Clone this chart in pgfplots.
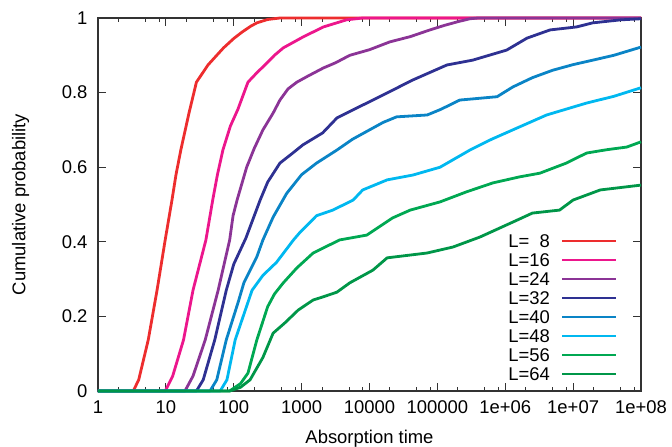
\documentclass[border=0pt]{standalone}
\usepackage{pgfplots}
\pgfplotsset{compat=1.18}
\usepackage{fontspec}
\setmainfont{Liberation Sans}
\definecolor{cA}{RGB}{237,45,46}
\definecolor{cB}{RGB}{236,22,140}
\definecolor{cC}{RGB}{139,52,150}
\definecolor{cD}{RGB}{46,49,146}
\definecolor{cE}{RGB}{10,132,198}
\definecolor{cF}{RGB}{0,184,240}
\definecolor{cG}{RGB}{0,168,82}
\definecolor{cH}{RGB}{0,150,72}
\begin{document}
\begin{tikzpicture}[font=\fontsize{18.5}{22}\selectfont]
\begin{axis}[
  scale only axis, width=543bp, height=373bp,
  xmode=log, xmin=1, xmax=1e8, ymin=0, ymax=1,
  clip=false,
  xtick={1,10,100,1000,10000,100000,1e6,1e7,1e8},
  xticklabels={1,10,100,1000,10000,100000,1e+06,1e+07,1e+08},
  minor xtick={2,5,8,20,50,80,200,500,800,2000,5000,8000,2e4,5e4,8e4,2e5,5e5,8e5,2e6,5e6,8e6,2e7,5e7,8e7},
  ytick={0,0.2,0.4,0.6,0.8,1},
  yticklabels={0,0.2,0.4,0.6,0.8,1},
  minor ytick={},
  tick align=inside,
  major tick length=8bp, minor tick length=4bp,
  axis line style={line width=1.2bp, black!80},
  tick style={line width=1bp, black!80},
  xticklabel style={yshift=-6.3bp},
  yticklabel style={xshift=-7bp},
  xlabel={Absorption time},
  ylabel={Cumulative probability},
  xlabel style={at={(axis description cs:0.5,-0.1408)}, anchor=base},
  ylabel style={at={(axis description cs:-0.1424,0.5)}, anchor=center},
  legend plot pos=right,
  legend cell align=right,
  legend style={at={(axis description cs:0.9576,0.0198)}, anchor=south east,
    draw=none, fill=none, inner sep=0pt, row sep=0pt, column sep=11bp,
    nodes={inner ysep=2.9bp, inner xsep=0bp, text height=13.2bp, text depth=0bp}},
  legend image code/.code={\draw[#1, line width=2.8bp] (0bp,0bp) -- (54bp,0bp);},
  every axis plot/.append style={line width=2.8bp, line join=round},
]
\coordinate (bl) at (rel axis cs:0,0);
\coordinate (tr) at (rel axis cs:1,1);
\addplot[cA] coordinates {(1,0) (3.31,0) (3.98,0.03) (5.50,0.137) (7.41,0.27) (9.77,0.405) (12.3,0.512) (14.1,0.58) (16.6,0.646) (21.9,0.745) (28.2,0.828) (35.5,0.855) (41.7,0.874) (56.2,0.9) (70.8,0.92) (100,0.945) (132,0.962) (178,0.978) (219,0.987) (316,0.996) (479,1) (1e8,1)};
\addlegendentry{L=\ \ 8}
\addplot[cB] coordinates {(1,0) (9.77,0) (12.6,0.04) (18.2,0.137) (25.1,0.27) (38.9,0.405) (49.0,0.512) (57.5,0.58) (69.2,0.646) (89.1,0.71) (115,0.755) (162,0.828) (224,0.855) (288,0.874) (398,0.9) (537,0.92) (1047,0.949) (2089,0.976) (4571,0.995) (7943,1) (1e8,1)};
\addlegendentry{L=16}
\addplot[cC] coordinates {(1,0) (19.1,0) (25.1,0.04) (38.0,0.137) (58.9,0.27) (87.1,0.405) (97.7,0.47) (112,0.512) (155,0.6) (200,0.65) (269,0.70) (380,0.745) (479,0.78) (631,0.81) (851,0.828) (1259,0.845) (2089,0.866) (3162,0.88) (5129,0.9) (10000,0.915) (19953,0.936) (39811,0.95) (77625,0.968) (125893,0.98) (199526,0.99) (301995,0.998) (398107,1) (1e8,1)};
\addlegendentry{L=24}
\addplot[cD] coordinates {(1,0) (28.2,0) (35.5,0.03) (52.5,0.137) (77.6,0.27) (100,0.34) (151,0.41) (245,0.512) (316,0.56) (479,0.611) (741,0.638) (1047,0.66) (2042,0.692) (3311,0.732) (4571,0.745) (14125,0.789) (25119,0.812) (43652,0.834) (1.38e5,0.874) (3.31e5,0.887) (1.05e6,0.914) (2.09e6,0.946) (4.57e6,0.968) (1.12e7,0.976) (1.95e7,0.987) (5.01e7,0.995) (1e8,0.998)};
\addlegendentry{L=32}
\addplot[cE] coordinates {(1,0) (44.7,0) (56.2,0.03) (77.6,0.137) (117,0.24) (141,0.29) (219,0.36) (269,0.405) (380,0.466) (603,0.53) (1000,0.58) (1660,0.611) (3311,0.646) (5623,0.675) (10000,0.70) (15849,0.72) (25119,0.735) (70795,0.74) (112202,0.755) (213796,0.78) (758578,0.789) (1.29e6,0.815) (2.51e6,0.84) (5.01e6,0.86) (1e7,0.875) (1.95e7,0.887) (3.98e7,0.9) (1e8,0.922)};
\addlegendentry{L=40}
\addplot[cF] coordinates {(1,0) (63.1,0) (79.4,0.03) (105,0.137) (186,0.27) (269,0.31) (427,0.345) (759,0.405) (933,0.424) (1660,0.47) (2884,0.485) (5754,0.512) (7943,0.539) (18197,0.566) (43652,0.579) (109648,0.60) (301995,0.646) (630957,0.675) (1.29e6,0.70) (4.07e6,0.74) (1.58e7,0.772) (3.98e7,0.79) (1e8,0.813)};
\addlegendentry{L=48}
\addplot[cG] coordinates {(1,0) (87.1,0) (126,0.02) (162,0.048) (219,0.137) (316,0.226) (398,0.26) (537,0.29) (851,0.33) (1479,0.37) (3631,0.405) (9120,0.418) (21878,0.464) (39811,0.485) (109648,0.507) (269153,0.534) (660693,0.558) (1.62e6,0.574) (3.24e6,0.584) (7.94e6,0.611) (1.58e7,0.638) (3.16e7,0.647) (6.17e7,0.654) (1e8,0.668)};
\addlegendentry{L=56}
\addplot[cH] coordinates {(1,0) (87.1,0) (126,0.01) (174,0.03) (269,0.09) (380,0.155) (562,0.182) (891,0.217) (1479,0.244) (2042,0.252) (3311,0.265) (5129,0.29) (11220,0.324) (18197,0.357) (70795,0.37) (169824,0.386) (426580,0.413) (831764,0.437) (1.62e6,0.461) (2.51e6,0.477) (6.31e6,0.485) (1e7,0.512) (2.51e7,0.539) (1e8,0.552)};
\addlegendentry{L=64}
\end{axis}
\pgfresetboundingbox
\path[use as bounding box] ([xshift=-98bp,yshift=-56bp]bl) rectangle ([xshift=31bp,yshift=18bp]tr);
\end{tikzpicture}
\end{document}
